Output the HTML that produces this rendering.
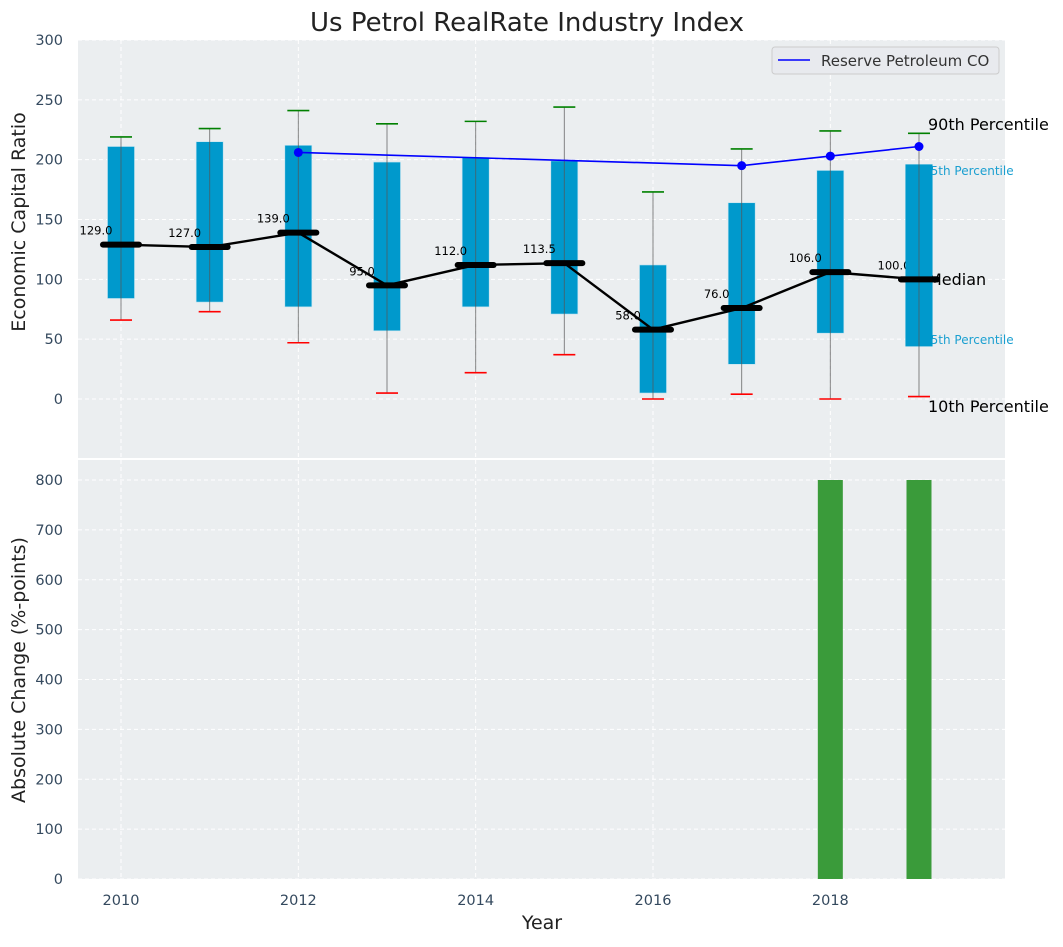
<!DOCTYPE html>
<html><head><meta charset="utf-8"><style>
body{margin:0;background:#fff;font-family:"Liberation Sans","DejaVu Sans",sans-serif}
svg text{font-family:"DejaVu Sans","Liberation Sans",sans-serif}
</style></head><body>
<svg id="chart" width="1063" height="942" xmlns="http://www.w3.org/2000/svg"></svg>
<script>
const years=[2010,2011,2012,2013,2014,2015,2016,2017,2018,2019];
const q3=[211,215,212,198,202,199,112,164,191,196];
const q1=[84,81,77,57,77,71,5,29,55,44];
const p90=[219,226,241,230,232,244,173,209,224,222];
const p10=[66,73,47,5,22,37,0,4,0,2];
const medians=[129,127,139,95,112,113.5,58,76,106,100];
const reserveYears=[2012,2017,2018,2019];
const reserveVals=[206,195,203,211];
const changeYears=[2018,2019];
const changeVals=[800,800];
const topTicks=[0,50,100,150,200,250,300];
const botTicks=[0,100,200,300,400,500,600,700,800];
const xTicks=[2010,2012,2014,2016,2018];

const svg=document.getElementById('chart');
const NS='http://www.w3.org/2000/svg';
function el(tag,attrs,parent){const e=document.createElementNS(NS,tag);for(const k in attrs)e.setAttribute(k,attrs[k]);(parent||svg).appendChild(e);return e;}
const L=78,R=1005;
const x=v=>L+(v-2009.515)*(R-L)/(2019.97-2009.515);
const yT=v=>399-(v)*359/300;
const yB=v=>879-v*(879-480)/800;

let bgT=el('rect',{x:L,y:40,width:R-L,height:418,fill:'#ebeef0'});


let bgB=el('rect',{x:L,y:460,width:R-L,height:419,fill:'#ebeef0'});



xTicks.forEach(t=>{
  el('line',{x1:x(t),x2:x(t),y1:40,y2:458,stroke:'#fff','stroke-dasharray':'4,3','stroke-width':1});
  el('line',{x1:x(t),x2:x(t),y1:460,y2:879,stroke:'#fff','stroke-dasharray':'4,3','stroke-width':1});
  const tx=el('text',{x:x(t),y:905,'text-anchor':'middle','font-size':14.5,fill:'#34495e'});tx.textContent=t;
  
  
});
topTicks.forEach(t=>{
  el('line',{x1:L,x2:R,y1:yT(t),y2:yT(t),stroke:'#fff','stroke-dasharray':'4,3'});
  const tx=el('text',{x:63,y:yT(t)+5,'text-anchor':'end','font-size':14.5,fill:'#34495e'});tx.textContent=t;
  
  
});
botTicks.forEach(t=>{
  el('line',{x1:L,x2:R,y1:yB(t),y2:yB(t),stroke:'#fff','stroke-dasharray':'4,3'});
  const tx=el('text',{x:63,y:yB(t)+5,'text-anchor':'end','font-size':14.5,fill:'#34495e'});tx.textContent=t;
  
  
});

years.forEach((yr,i)=>{
  const cx=x(yr);
  const b=el('rect',{x:cx-13.5,y:yT(q3[i]),width:27,height:yT(q1[i])-yT(q3[i]),fill:'#0099cc',stroke:'#bfe3f0','stroke-width':0.6});
  
  
  el('line',{x1:cx,x2:cx,y1:yT(p90[i]),y2:yT(p10[i]),stroke:'#555','stroke-width':1,opacity:0.7});
  el('line',{x1:cx-11,x2:cx+11,y1:yT(p90[i]),y2:yT(p90[i]),stroke:'green','stroke-width':1.6});
  el('line',{x1:cx-11,x2:cx+11,y1:yT(p10[i]),y2:yT(p10[i]),stroke:'red','stroke-width':1.6});
});
const mp=years.map((yr,i)=>x(yr)+','+yT(medians[i])).join(' ');
const ml=el('polyline',{points:mp,fill:'none',stroke:'#000','stroke-width':2.4});


years.forEach((yr,i)=>{
  const cx=x(yr);
  el('line',{x1:cx-18,x2:cx+18,y1:yT(medians[i]),y2:yT(medians[i]),stroke:'#000','stroke-width':6,'stroke-linecap':'round'});
  const t=el('text',{x:cx-25,y:yT(medians[i])-10,'text-anchor':'middle','font-size':11.5,fill:'#000'});t.textContent=medians[i].toFixed(1);
  
  
});
const rp=reserveYears.map((yr,i)=>x(yr)+','+yT(reserveVals[i])).join(' ');
const rl=el('polyline',{points:rp,fill:'none',stroke:'blue','stroke-width':1.6});


reserveYears.forEach((yr,i)=>{
  const c=el('circle',{cx:x(yr),cy:yT(reserveVals[i]),r:4.5,fill:'blue'});
  
  
});
const ann=[['90th Percentile',928,130,16,'#000'],['75th Percentile',923,175,12,'#1a9fd0'],['Median',928,285,16,'#000'],['25th Percentile',923,344,12,'#1a9fd0'],['10th Percentile',928,412,16,'#000']];
ann.forEach(a=>{const t=el('text',{x:a[1],y:a[2],'font-size':a[3],fill:a[4]});t.textContent=a[0];
  
  });
{const i=9,cx=x(2019);el('rect',{x:cx-13.5,y:yT(q3[i]),width:27,height:yT(q1[i])-yT(q3[i]),fill:'#0099cc'});
 el('line',{x1:cx,x2:cx,y1:yT(q3[i]),y2:yT(q1[i]),stroke:'#555',opacity:0.7});
 el('line',{x1:cx-18,x2:cx+18,y1:yT(medians[i]),y2:yT(medians[i]),stroke:'#000','stroke-width':6,'stroke-linecap':'round'});}

changeYears.forEach((yr,i)=>{
  const b=el('rect',{x:x(yr)-12.5,y:yB(changeVals[i]),width:25,height:yB(0)-yB(changeVals[i]),fill:'#3a9b3a'});
  
  
});

const lg=el('g',{});


el('rect',{x:772,y:47,width:227,height:27,rx:3,fill:'#e8eaee',stroke:'#ccc'},lg);
el('line',{x1:778,x2:810,y1:60,y2:60,stroke:'blue','stroke-width':1.6},lg);
const lt=el('text',{x:821,y:66,'font-size':15,fill:'#333'},lg);lt.textContent='Reserve Petroleum CO';

const tt=el('text',{x:527,y:31,'text-anchor':'middle','font-size':26,fill:'#222'});tt.textContent='Us Petrol RealRate Industry Index';


const xl=el('text',{x:542,y:929,'text-anchor':'middle','font-size':19,fill:'#222'});xl.textContent='Year';


const y1=el('text',{x:0,y:0,'text-anchor':'middle','font-size':19,fill:'#222',transform:'translate(25,222) rotate(-90)'});y1.textContent='Economic Capital Ratio';


const y2=el('text',{x:0,y:0,'text-anchor':'middle','font-size':19,fill:'#222',transform:'translate(25,670) rotate(-90)'});y2.textContent='Absolute Change (%-points)';


</script>
</body></html>
